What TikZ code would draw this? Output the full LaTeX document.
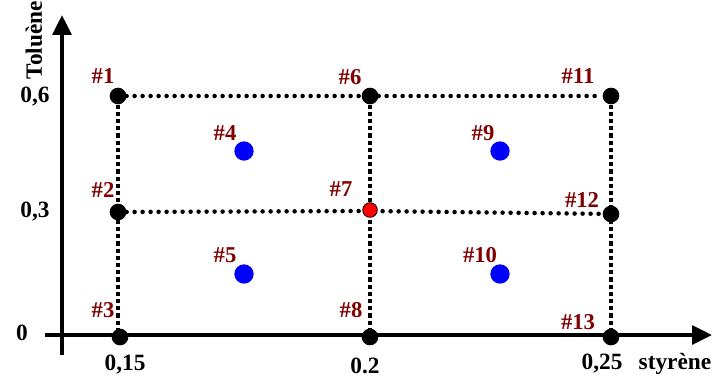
\documentclass[tikz,border=0pt]{standalone}
\usepackage{fontspec}
\setmainfont{Liberation Serif}
\usetikzlibrary{arrows.meta}
\definecolor{lab}{RGB}{128,0,0}
\begin{document}
\begin{tikzpicture}[x=0.75pt,y=-0.75pt,
  blk/.style={circle,fill=black,inner sep=0pt,minimum size=12.5pt},
  red/.style={circle,fill=red,draw=black,line width=0.6pt,inner sep=0pt,minimum size=11pt},
  blu/.style={circle,fill=blue,inner sep=0pt,minimum size=14.5pt},
  lbl/.style={text=lab,font=\fontsize{17}{19}\selectfont\bfseries,inner sep=0pt},
  tck/.style={font=\fontsize{17.5}{19}\selectfont\bfseries,inner sep=0pt},
  hdot/.style={line width=3.4pt,line cap=round,dash pattern=on 0pt off 6pt},
  vdash/.style={line width=2.8pt,dash pattern=on 3.2pt off 2.2pt},
  axis/.style={line width=3pt,-{Triangle[length=15pt,width=14pt]}}]
\useasboundingbox (0,0) rectangle (712,378);
% axes
\coordinate (yb) at (62,355);
\coordinate (yt) at (62,15);
\coordinate (xl) at (45,335);
\coordinate (xr) at (712,335);
\draw[axis] (yb) -- (yt);
\draw[axis] (xl) -- (xr);
% points
\node[blk] (p1) at (118,96) {};
\node[blk] (p6) at (370,96) {};
\node[blk] (p11) at (611,96) {};
\node[blk] (p2) at (118,212) {};
\node[blk] (p12) at (611,214) {};
\node[blk] (p3) at (120,337) {};
\node[blk] (p8) at (370,337) {};
\node[blk] (p13) at (611,337) {};
% grid lines
\draw[hdot] (p1) -- (p6);
\draw[hdot] (p6) -- (p11);
\draw[hdot] (p2) -- (370,211) -- (p12);
\draw[vdash] (p1) -- (118,337);
\draw[vdash] (p6) -- (p8);
\draw[vdash] (p11) -- (p13);
\node[red] (p7) at (370,210) {};
\node[blu] (p4) at (244,151) {};
\node[blu] (p5) at (244,274) {};
\node[blu] (p9) at (500,151) {};
\node[blu] (p10) at (500,274) {};
% labels
\node[lbl] at (103,76) {\#1};
\node[lbl] at (350,77) {\#6};
\node[lbl] at (578,76) {\#11};
\node[lbl] at (225,133) {\#4};
\node[lbl] at (483,133) {\#9};
\node[lbl] at (103,190) {\#2};
\node[lbl] at (341,189) {\#7};
\node[lbl] at (582,200) {\#12};
\node[lbl] at (225,255) {\#5};
\node[lbl] at (480,255) {\#10};
\node[lbl] at (103,310) {\#3};
\node[lbl] at (351,310) {\#8};
\node[lbl] at (578,322) {\#13};
% ticks
\node[tck] at (35,97) {0,6};
\node[tck] at (35,212) {0,3};
\node[tck] at (22,333) {0};
\node[tck] at (125,365) {0,15};
\node[tck] at (365,366) {0.2};
\node[tck] at (602,364) {0,25};
\node[tck] at (675,364) {styrène};
\node[tck,rotate=90] at (34,40) {Toluène};
\end{tikzpicture}
\end{document}
